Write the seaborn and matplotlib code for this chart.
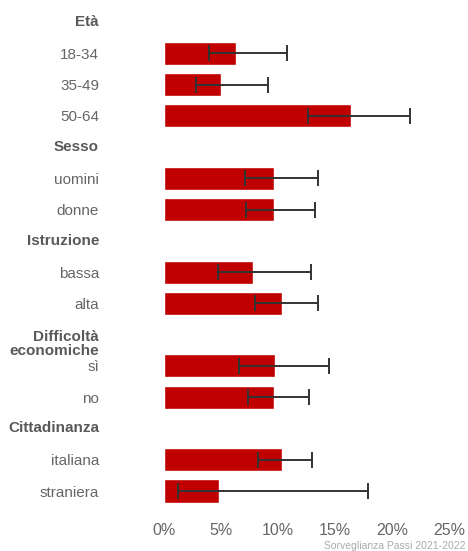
import pandas as pd
import matplotlib.pyplot as plt
import seaborn as sns

# Groups and categories (Passi 2021-2022)
groups = ["Età", "Sesso", "Istruzione", "Difficoltà\neconomiche", "Cittadinanza"]
categories = [
    ["18-34", "35-49", "50-64"],
    ["uomini", "donne"],
    ["bassa", "alta"],
    ["sì", "no"],
    ["italiana", "straniera"],
]
values = [6.3, 5.0, 16.4, 9.6, 9.6, 7.8, 10.3, 9.7, 9.6, 10.3, 4.8]
ci_low = [3.9, 2.8, 12.6, 7.1, 7.2, 4.7, 8.0, 6.6, 7.4, 8.2, 1.2]
ci_high = [10.8, 9.1, 21.6, 13.5, 13.2, 12.9, 13.5, 14.5, 12.7, 13.0, 17.9]
x_ticks = [0, 5, 10, 15, 20, 25]

# Build the row order: header row followed by its categories
order = []
is_header = []
for g, cats in zip(groups, categories):
    order.append(g)
    is_header.append(True)
    for c in cats:
        order.append(c)
        is_header.append(False)

flat_cats = [c for cats in categories for c in cats]
df = pd.DataFrame({"cat": flat_cats, "val": values, "lo": ci_low, "hi": ci_high})

sns.set_style("white")
plt.rcParams['font.family'] = ['Liberation Sans', 'DejaVu Sans']

fig = plt.figure(figsize=(4.68, 5.51), dpi=100)
ax = fig.add_axes([0.351, 0.0806, 0.608, 0.9078])

sns.barplot(data=df, x="val", y="cat", order=order, orient="h",
            color="#C00000", saturation=1, width=0.74, errorbar=None, ax=ax)

# Confidence intervals
pos = [order.index(c) for c in df["cat"]]
ax.errorbar(df["val"], pos, xerr=[df["val"] - df["lo"], df["hi"] - df["val"]],
            fmt="none", ecolor="#333333", elinewidth=1.4, capsize=6, capthick=1.4)

ax.set_xlim(0, 25)
ax.set_ylim(len(order) - 0.5, -0.5)
ax.set_xticks(x_ticks)
ax.set_xticklabels([f"{t}%" for t in x_ticks], fontsize=11.5, color="#666666")
ax.tick_params(axis="x", length=0, pad=12)
ax.set_yticks([])
ax.set_xlabel("")
ax.set_ylabel("")
sns.despine(ax=ax, left=True, bottom=True)

# Row labels
trans = ax.get_yaxis_transform()
for i, (lab, h) in enumerate(zip(order, is_header)):
    if h:
        if "\n" in lab:
            ax.text(-0.229, i - 0.14, lab, transform=trans, ha="right", va="top",
                    fontsize=11, fontweight="bold", color="#595959", linespacing=1.0)
        else:
            ax.text(-0.229, i, lab, transform=trans, ha="right", va="center",
                    fontsize=11, fontweight="bold", color="#595959")
    else:
        ax.text(-0.229, i + 0.05, lab, transform=trans, ha="right", va="center",
                fontsize=11, color="#666666")

fig.text(0.995, 0.0, "Sorveglianza Passi 2021-2022", ha="right", va="bottom",
         fontsize=7.5, color="#aaaaaa")

fig.savefig("out.png", dpi=100)
